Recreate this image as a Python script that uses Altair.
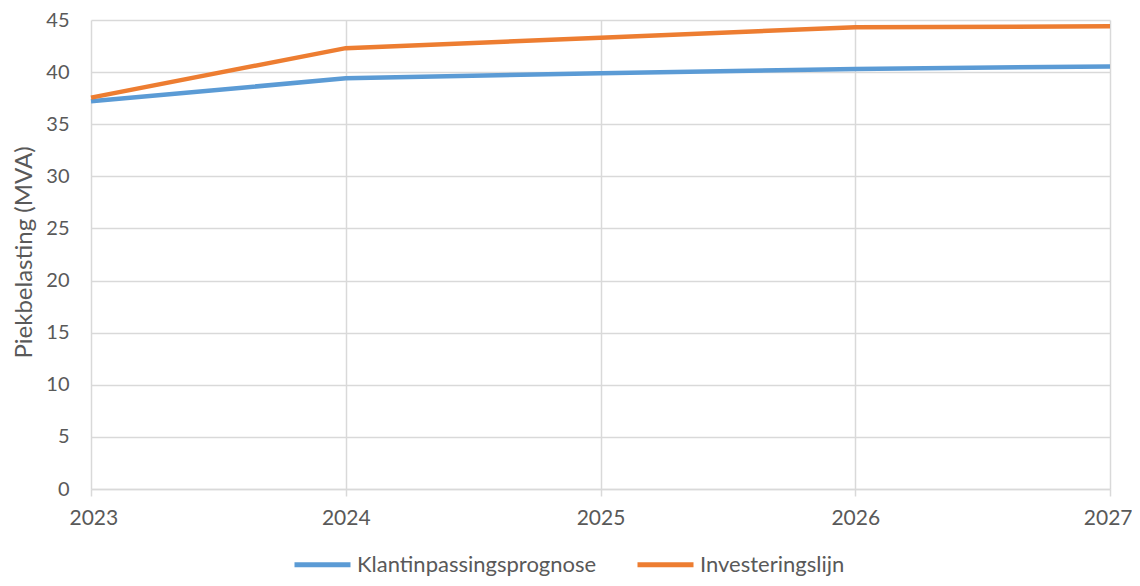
import altair as alt
import pandas as pd

years = [2023, 2024, 2025, 2026, 2027]
klant = [37.2, 39.4, 39.9, 40.3, 40.55]
invest = [37.55, 42.3, 43.3, 44.3, 44.4]
series_names = ["Klantinpassingsprognose", "Investeringslijn"]
colors = ["#5B9BD5", "#ED7D31"]

rows = []
for y, v in zip(years, klant):
    rows.append({"jaar": y, "waarde": v, "serie": series_names[0]})
for y, v in zip(years, invest):
    rows.append({"jaar": y, "waarde": v, "serie": series_names[1]})
df = pd.DataFrame(rows)

FONT = "Lato"
TXT = "#595959"
GRID = "#D9D9D9"

chart = alt.Chart(df).mark_line(strokeWidth=4.5, strokeCap="butt").encode(
    x=alt.X("jaar:Q",
            scale=alt.Scale(domain=[2023, 2027], nice=False, zero=False),
            axis=alt.Axis(values=years, format="d", title=None, grid=True,
                          gridColor=GRID, gridWidth=1.5, domain=True,
                          domainColor=GRID, domainWidth=1.5,
                          ticks=True, tickColor=GRID, tickWidth=1.5, tickSize=7,
                          labelFont=FONT, labelFontSize=21, labelColor=TXT,
                          labelPadding=11, labelFlush=True, labelFlushOffset=22)),
    y=alt.Y("waarde:Q",
            scale=alt.Scale(domain=[0, 45], nice=False),
            axis=alt.Axis(values=list(range(0, 50, 5)), title="Piekbelasting (MVA)",
                          grid=True, gridColor=GRID, gridWidth=1.5,
                          domain=False, ticks=False,
                          labelFont=FONT, labelFontSize=20, labelColor=TXT,
                          labelPadding=22,
                          titleFont=FONT, titleFontSize=24, titleColor=TXT,
                          titleFontWeight="normal",
                          titleX=-67, titleY=232, titleAngle=270,
                          titleAlign="center", titleBaseline="middle")),
    color=alt.Color("serie:N",
                    scale=alt.Scale(domain=series_names, range=colors),
                    sort=series_names,
                    legend=alt.Legend(title=None, orient="none", direction="horizontal",
                                      legendX=201, legendY=514,
                                      symbolType="stroke", symbolSize=3136,
                                      symbolStrokeWidth=5, labelOffset=4,
                                      columnPadding=30, labelLimit=0,
                                      labelFont=FONT, labelFontSize=22, labelColor=TXT)),
).properties(
    width=1019, height=469,
    autosize=alt.AutoSizeParams(type="none"),
    padding={"left": 83, "top": 12, "right": 22, "bottom": 89},
).configure_view(stroke=None)

chart.save("out.html", embed_options={"renderer": "svg", "actions": False})
